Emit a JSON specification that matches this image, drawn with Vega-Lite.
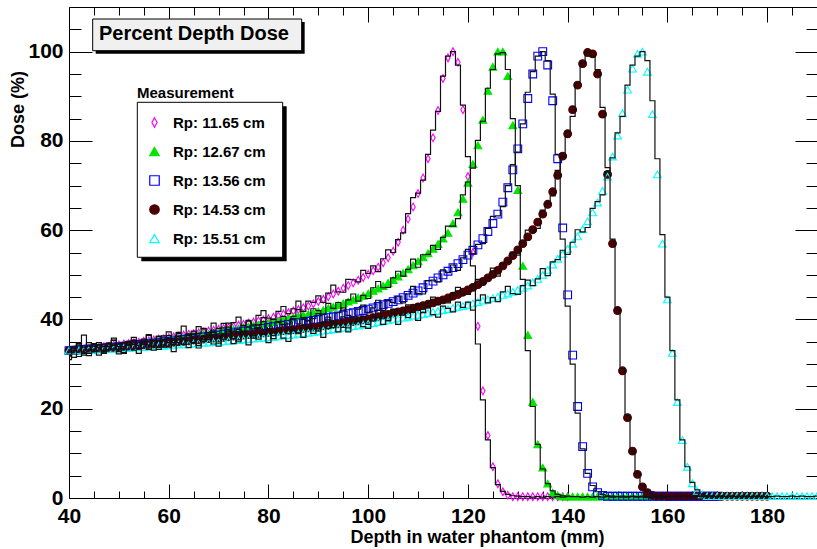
{
"$schema":"https://vega.github.io/schema/vega-lite/v6.json",
"width":748,"height":491,
"autosize":{"type":"none"},
"padding":{"left":69,"top":7,"right":0,"bottom":51},
"background":"white",
"config":{
 "font":"Liberation Sans",
 "view":{"stroke":"black","strokeWidth":1},
 "axis":{"domain":false,"grid":false,"tickColor":"black","tickWidth":1,"labelFont":"Liberation Sans","labelFontWeight":"bold","labelFontSize":21,"labelColor":"black","labelFlush":false,"labelOverlap":false,"titleFont":"Liberation Sans","titleFontWeight":"bold","titleFontSize":18,"titleColor":"black"},
 "legend":{"titleFont":"Liberation Sans","titleFontSize":15,"titleFontWeight":"bold","titleColor":"black","labelFont":"Liberation Sans","labelFontSize":15,"labelFontWeight":"bold","labelColor":"black","symbolSize":90,"symbolStrokeWidth":1.2,"rowPadding":13,"titlePadding":14,"symbolOffset":10,"labelOffset":11,"padding":0}
},
"datasets":{
"meas":[
{"x":40,"a":33.0,"b":33.0,"c":33.0,"d":33.0,"e":33.0},
{"x":41,"a":33.1,"b":33.1,"c":33.1,"d":33.1,"e":33.0},
{"x":42,"a":33.2,"b":33.2,"c":33.2,"d":33.2,"e":33.1},
{"x":43,"a":33.4,"b":33.3,"c":33.3,"d":33.2,"e":33.1},
{"x":44,"a":33.5,"b":33.4,"c":33.4,"d":33.3,"e":33.2},
{"x":45,"a":33.6,"b":33.5,"c":33.4,"d":33.4,"e":33.2},
{"x":46,"a":33.7,"b":33.6,"c":33.5,"d":33.5,"e":33.3},
{"x":47,"a":33.9,"b":33.7,"c":33.6,"d":33.6,"e":33.3},
{"x":48,"a":34.0,"b":33.9,"c":33.7,"d":33.6,"e":33.4},
{"x":49,"a":34.2,"b":34.0,"c":33.8,"d":33.7,"e":33.4},
{"x":50,"a":34.3,"b":34.1,"c":33.9,"d":33.8,"e":33.5},
{"x":51,"a":34.5,"b":34.2,"c":34.0,"d":33.9,"e":33.6},
{"x":52,"a":34.6,"b":34.4,"c":34.1,"d":34.0,"e":33.6},
{"x":53,"a":34.8,"b":34.5,"c":34.2,"d":34.1,"e":33.7},
{"x":54,"a":34.9,"b":34.6,"c":34.4,"d":34.2,"e":33.8},
{"x":55,"a":35.1,"b":34.8,"c":34.5,"d":34.3,"e":33.8},
{"x":56,"a":35.2,"b":34.9,"c":34.6,"d":34.4,"e":33.9},
{"x":57,"a":35.4,"b":35.1,"c":34.7,"d":34.5,"e":34.0},
{"x":58,"a":35.6,"b":35.2,"c":34.8,"d":34.6,"e":34.1},
{"x":59,"a":35.7,"b":35.4,"c":35.0,"d":34.7,"e":34.1},
{"x":60,"a":35.9,"b":35.5,"c":35.1,"d":34.8,"e":34.2},
{"x":61,"a":36.1,"b":35.7,"c":35.2,"d":34.9,"e":34.3},
{"x":62,"a":36.3,"b":35.8,"c":35.4,"d":35.0,"e":34.4},
{"x":63,"a":36.5,"b":36.0,"c":35.5,"d":35.1,"e":34.4},
{"x":64,"a":36.7,"b":36.2,"c":35.7,"d":35.2,"e":34.5},
{"x":65,"a":36.8,"b":36.3,"c":35.8,"d":35.4,"e":34.6},
{"x":66,"a":37.0,"b":36.5,"c":35.9,"d":35.5,"e":34.7},
{"x":67,"a":37.2,"b":36.7,"c":36.1,"d":35.6,"e":34.8},
{"x":68,"a":37.4,"b":36.8,"c":36.2,"d":35.7,"e":34.8},
{"x":69,"a":37.6,"b":37.0,"c":36.4,"d":35.8,"e":34.9},
{"x":70,"a":37.8,"b":37.2,"c":36.5,"d":35.9,"e":35.0},
{"x":71,"a":38.0,"b":37.4,"c":36.7,"d":36.0,"e":35.1},
{"x":72,"a":38.2,"b":37.6,"c":36.9,"d":36.1,"e":35.2},
{"x":73,"a":38.4,"b":37.8,"c":37.0,"d":36.3,"e":35.3},
{"x":74,"a":38.7,"b":38.0,"c":37.2,"d":36.4,"e":35.4},
{"x":75,"a":38.9,"b":38.2,"c":37.4,"d":36.5,"e":35.5},
{"x":76,"a":39.2,"b":38.4,"c":37.5,"d":36.6,"e":35.6},
{"x":77,"a":39.4,"b":38.6,"c":37.7,"d":36.7,"e":35.7},
{"x":78,"a":39.7,"b":38.8,"c":37.9,"d":36.9,"e":35.8},
{"x":79,"a":39.9,"b":39.0,"c":38.0,"d":37.0,"e":35.9},
{"x":80,"a":40.2,"b":39.2,"c":38.2,"d":37.1,"e":36.0},
{"x":81,"a":40.5,"b":39.4,"c":38.4,"d":37.2,"e":36.1},
{"x":82,"a":40.8,"b":39.7,"c":38.5,"d":37.4,"e":36.2},
{"x":83,"a":41.2,"b":39.9,"c":38.7,"d":37.5,"e":36.4},
{"x":84,"a":41.5,"b":40.2,"c":38.9,"d":37.6,"e":36.5},
{"x":85,"a":41.9,"b":40.4,"c":39.1,"d":37.7,"e":36.6},
{"x":86,"a":42.2,"b":40.7,"c":39.3,"d":37.9,"e":36.8},
{"x":87,"a":42.6,"b":41.0,"c":39.4,"d":38.0,"e":36.9},
{"x":88,"a":43.0,"b":41.2,"c":39.6,"d":38.1,"e":37.0},
{"x":89,"a":43.5,"b":41.5,"c":39.8,"d":38.3,"e":37.2},
{"x":90,"a":44.0,"b":41.8,"c":40.0,"d":38.4,"e":37.3},
{"x":91,"a":44.5,"b":42.1,"c":40.2,"d":38.6,"e":37.5},
{"x":92,"a":45.1,"b":42.5,"c":40.4,"d":38.7,"e":37.6},
{"x":93,"a":45.7,"b":42.8,"c":40.6,"d":38.9,"e":37.8},
{"x":94,"a":46.3,"b":43.2,"c":40.8,"d":39.0,"e":38.0},
{"x":95,"a":47.0,"b":43.6,"c":41.0,"d":39.2,"e":38.1},
{"x":96,"a":47.6,"b":44.0,"c":41.3,"d":39.4,"e":38.3},
{"x":97,"a":48.2,"b":44.4,"c":41.5,"d":39.5,"e":38.5},
{"x":98,"a":48.8,"b":44.9,"c":41.8,"d":39.7,"e":38.6},
{"x":99,"a":49.4,"b":45.3,"c":42.0,"d":39.9,"e":38.8},
{"x":100,"a":50.1,"b":45.8,"c":42.3,"d":40.1,"e":39.0},
{"x":101,"a":50.9,"b":46.4,"c":42.6,"d":40.4,"e":39.2},
{"x":102,"a":51.7,"b":46.9,"c":42.9,"d":40.6,"e":39.4},
{"x":103,"a":52.7,"b":47.5,"c":43.3,"d":40.9,"e":39.6},
{"x":104,"a":53.8,"b":48.2,"c":43.6,"d":41.1,"e":39.8},
{"x":105,"a":55.3,"b":48.8,"c":44.0,"d":41.4,"e":40.0},
{"x":106,"a":57.3,"b":49.6,"c":44.4,"d":41.7,"e":40.2},
{"x":107,"a":60.0,"b":50.4,"c":44.9,"d":41.9,"e":40.4},
{"x":108,"a":62.5,"b":51.2,"c":45.4,"d":42.2,"e":40.6},
{"x":109,"a":65.2,"b":52.1,"c":45.9,"d":42.5,"e":40.8},
{"x":110,"a":68.2,"b":53.0,"c":46.4,"d":42.8,"e":41.0},
{"x":111,"a":71.7,"b":53.9,"c":47.1,"d":43.1,"e":41.2},
{"x":112,"a":76.0,"b":54.8,"c":47.8,"d":43.4,"e":41.4},
{"x":113,"a":80.7,"b":55.8,"c":48.6,"d":43.7,"e":41.7},
{"x":114,"a":86.8,"b":56.9,"c":49.3,"d":44.1,"e":41.9},
{"x":115,"a":94.0,"b":58.1,"c":50.0,"d":44.4,"e":42.1},
{"x":116,"a":98.6,"b":59.4,"c":50.8,"d":44.8,"e":42.3},
{"x":117,"a":100.0,"b":61.5,"c":51.6,"d":45.2,"e":42.6},
{"x":118,"a":97.6,"b":64.0,"c":52.5,"d":45.6,"e":42.8},
{"x":119,"a":87.0,"b":67.0,"c":53.4,"d":46.1,"e":43.0},
{"x":120,"a":72.0,"b":70.6,"c":54.4,"d":46.6,"e":43.3},
{"x":121,"a":55.0,"b":74.8,"c":55.5,"d":47.2,"e":43.6},
{"x":122,"a":38.5,"b":79.0,"c":56.7,"d":47.8,"e":43.9},
{"x":123,"a":24.0,"b":84.7,"c":58.1,"d":48.5,"e":44.2},
{"x":124,"a":14.0,"b":91.2,"c":59.7,"d":49.3,"e":44.5},
{"x":125,"a":7.0,"b":96.6,"c":61.5,"d":50.1,"e":44.8},
{"x":126,"a":3.2,"b":100.0,"c":63.6,"d":51.0,"e":45.1},
{"x":127,"a":1.4,"b":100.0,"c":66.3,"d":52.0,"e":45.5},
{"x":128,"a":0.6,"b":94.5,"c":69.5,"d":53.1,"e":45.8},
{"x":129,"a":0.3,"b":83.5,"c":73.5,"d":54.3,"e":46.2},
{"x":130,"a":0.3,"b":69.0,"c":78.2,"d":55.6,"e":46.6},
{"x":131,"a":0.3,"b":52.0,"c":83.8,"d":57.0,"e":47.1},
{"x":132,"a":0.3,"b":36.5,"c":89.5,"d":58.5,"e":47.6},
{"x":133,"a":0.3,"b":21.5,"c":95.0,"d":60.1,"e":48.3},
{"x":134,"a":0.3,"b":12.0,"c":99.0,"d":61.8,"e":49.1},
{"x":135,"a":0.3,"b":6.8,"c":100.0,"d":63.6,"e":50.0},
{"x":136,"a":0.3,"b":3.2,"c":97.0,"d":65.8,"e":51.1},
{"x":137,"a":0.3,"b":1.2,"c":89.0,"d":68.6,"e":52.3},
{"x":138,"a":0.3,"b":0.6,"c":76.0,"d":72.3,"e":53.6},
{"x":139,"a":0.3,"b":0.3,"c":60.5,"d":76.6,"e":54.7},
{"x":140,"a":0.3,"b":0.3,"c":45.5,"d":81.6,"e":55.8},
{"x":141,"b":0.3,"c":32.0,"d":87.0,"e":57.0},
{"x":142,"b":0.3,"c":20.5,"d":92.5,"e":58.6},
{"x":143,"b":0.3,"c":11.5,"d":97.3,"e":60.2},
{"x":144,"b":0.3,"c":5.5,"d":99.8,"e":62.0},
{"x":145,"b":0.3,"c":2.5,"d":99.5,"e":64.0},
{"x":146,"b":0.3,"c":1.2,"d":95.0,"e":66.2},
{"x":147,"b":0.3,"c":0.6,"d":86.0,"e":68.8},
{"x":148,"b":0.3,"c":0.4,"d":72.5,"e":72.0},
{"x":149,"b":0.3,"c":0.4,"d":57.0,"e":76.5},
{"x":150,"b":0.3,"c":0.4,"d":42.0,"e":81.2},
{"x":151,"b":0.3,"c":0.4,"d":28.5,"e":86.2},
{"x":152,"b":0.3,"c":0.4,"d":18.0,"e":91.5},
{"x":153,"b":0.3,"c":0.4,"d":10.5,"e":96.2},
{"x":154,"b":0.3,"c":0.4,"d":5.3,"e":99.5},
{"x":155,"b":0.3,"c":0.4,"d":2.5,"e":100.0},
{"x":156,"b":0.3,"c":0.4,"d":1.2,"e":95.5},
{"x":157,"b":0.3,"c":0.4,"d":0.6,"e":86.0},
{"x":158,"b":0.3,"c":0.4,"d":0.4,"e":72.5},
{"x":159,"b":0.3,"c":0.4,"d":0.4,"e":57.0},
{"x":160,"b":0.3,"c":0.4,"d":0.4,"e":44.5},
{"x":161,"c":0.4,"d":0.4,"e":32.5},
{"x":162,"c":0.4,"d":0.4,"e":21.5},
{"x":163,"c":0.4,"d":0.4,"e":13.0},
{"x":164,"c":0.4,"d":0.4,"e":7.0},
{"x":165,"c":0.4,"d":0.4,"e":3.3},
{"x":166,"c":0.4,"d":0.4,"e":1.6},
{"x":167,"c":0.4,"d":0.4,"e":0.8},
{"x":168,"c":0.4,"d":0.4,"e":0.4},
{"x":169,"c":0.4,"d":0.4,"e":0.4},
{"x":170,"c":0.4,"d":0.4,"e":0.4},
{"x":171,"d":0.4,"e":0.4},
{"x":172,"d":0.4,"e":0.4},
{"x":173,"d":0.4,"e":0.4},
{"x":174,"d":0.4,"e":0.4},
{"x":175,"d":0.4,"e":0.4},
{"x":176,"d":0.4,"e":0.4},
{"x":177,"d":0.4,"e":0.4},
{"x":178,"d":0.4,"e":0.4},
{"x":179,"d":0.4,"e":0.4},
{"x":180,"d":0.4,"e":0.4},
{"x":181,"e":0.4},{"x":182,"e":0.4},{"x":183,"e":0.4},{"x":184,"e":0.4},{"x":185,"e":0.4},
{"x":186,"e":0.4},{"x":187,"e":0.4},{"x":188,"e":0.4},{"x":189,"e":0.4},{"x":190,"e":0.4}
],
"sim":[
{"x":40,"a":32.7,"b":31.9,"c":31.0,"d":31.8,"e":32.0},
{"x":41,"a":33.7,"b":33.8,"c":33.1,"d":33.4,"e":31.5},
{"x":42,"a":31.7,"b":34.8,"c":34.6,"d":34.7,"e":34.3},
{"x":43,"a":33.8,"b":36.5,"c":32.0,"d":32.6,"e":32.4},
{"x":44,"a":34.8,"b":32.4,"c":34.0,"d":31.9,"e":33.2},
{"x":45,"a":32.8,"b":34.0,"c":33.2,"d":34.3,"e":34.6},
{"x":46,"a":33.8,"b":34.8,"c":34.3,"d":33.7,"e":32.0},
{"x":47,"a":32.8,"b":33.0,"c":32.4,"d":32.7,"e":33.9},
{"x":48,"a":34.7,"b":33.9,"c":34.0,"d":34.7,"e":33.2},
{"x":49,"a":35.8,"b":35.4,"c":35.3,"d":33.4,"e":34.2},
{"x":50,"a":33.9,"b":32.8,"c":33.3,"d":34.4,"e":32.3},
{"x":51,"a":33.5,"b":34.8,"c":32.6,"d":32.4,"e":33.9},
{"x":52,"a":35.1,"b":34.2,"c":35.0,"d":34.4,"e":35.1},
{"x":53,"a":36.0,"b":35.3,"c":34.4,"d":35.4,"e":33.1},
{"x":54,"a":34.2,"b":33.4,"c":33.5,"d":33.4,"e":32.4},
{"x":55,"a":35.1,"b":35.1,"c":35.6,"d":34.4,"e":34.7},
{"x":56,"a":36.6,"b":36.4,"c":34.3,"d":33.3,"e":34.1},
{"x":57,"a":34.1,"b":34.5,"c":35.3,"d":35.2,"e":33.1},
{"x":58,"a":36.2,"b":33.8,"c":33.3,"d":36.2,"e":35.2},
{"x":59,"a":35.5,"b":36.3,"c":35.4,"d":34.3,"e":33.8},
{"x":60,"a":37.2,"b":35.7,"c":36.4,"d":33.8,"e":34.8},
{"x":61,"a":35.4,"b":34.8,"c":34.4,"d":35.4,"e":32.8},
{"x":62,"a":37.1,"b":36.9,"c":35.5,"d":36.2,"e":34.8},
{"x":63,"a":38.5,"b":35.7,"c":34.4,"d":34.4,"e":35.7},
{"x":64,"a":36.6,"b":36.8,"c":36.4,"d":35.2,"e":33.7},
{"x":65,"a":35.9,"b":34.8,"c":37.4,"d":36.8,"e":34.7},
{"x":66,"a":38.4,"b":36.9,"c":35.5,"d":34.2,"e":33.6},
{"x":67,"a":37.9,"b":38.0,"c":35.1,"d":36.2,"e":35.5},
{"x":68,"a":37.0,"b":36.0,"c":36.7,"d":35.5,"e":36.4},
{"x":69,"a":39.2,"b":37.1,"c":37.6,"d":36.6,"e":34.5},
{"x":70,"a":38.0,"b":36.1,"c":35.8,"d":34.7,"e":34.0},
{"x":71,"a":39.1,"b":38.1,"c":36.7,"d":36.3,"e":35.6},
{"x":72,"a":37.2,"b":39.2,"c":38.3,"d":37.6,"e":36.4},
{"x":73,"a":39.3,"b":37.4,"c":35.7,"d":35.7,"e":34.6},
{"x":74,"a":40.5,"b":37.0,"c":37.8,"d":35.0,"e":35.4},
{"x":75,"a":38.6,"b":38.7,"c":37.2,"d":37.4,"e":36.9},
{"x":76,"a":39.8,"b":39.6,"c":38.3,"d":36.8,"e":34.3},
{"x":77,"a":38.8,"b":37.9,"c":36.5,"d":35.8,"e":36.3},
{"x":78,"a":40.9,"b":38.8,"c":38.2,"d":38.0,"e":35.6},
{"x":79,"a":42.0,"b":40.4,"c":39.5,"d":36.7,"e":36.7},
{"x":80,"a":40.3,"b":37.9,"c":37.6,"d":37.7,"e":34.8},
{"x":81,"a":40.0,"b":40.0,"c":37.0,"d":35.7,"e":36.4},
{"x":82,"a":41.8,"b":39.5,"c":39.4,"d":37.8,"e":37.7},
{"x":83,"a":42.9,"b":40.7,"c":38.9,"d":38.8,"e":35.8},
{"x":84,"a":41.3,"b":39.0,"c":38.0,"d":36.8,"e":35.1},
{"x":85,"a":42.4,"b":40.7,"c":40.2,"d":37.8,"e":37.5},
{"x":86,"a":44.1,"b":42.2,"c":39.0,"d":36.8,"e":37.0},
{"x":87,"a":41.8,"b":40.4,"c":40.0,"d":38.7,"e":36.0},
{"x":88,"a":44.1,"b":39.8,"c":38.1,"d":39.7,"e":38.1},
{"x":89,"a":43.8,"b":42.4,"c":40.2,"d":37.9,"e":36.9},
{"x":90,"a":45.3,"b":42.0,"c":41.3,"d":37.4,"e":37.9},
{"x":91,"a":43.8,"b":41.2,"c":39.4,"d":39.1,"e":36.0},
{"x":92,"a":45.9,"b":43.6,"c":40.5,"d":39.9,"e":38.0},
{"x":93,"a":47.7,"b":42.5,"c":39.5,"d":38.2,"e":39.1},
{"x":94,"a":46.2,"b":43.8,"c":41.5,"d":39.0,"e":37.2},
{"x":95,"a":46.1,"b":42.1,"c":42.6,"d":40.6,"e":38.2},
{"x":96,"a":49.0,"b":44.4,"c":40.9,"d":38.1,"e":37.2},
{"x":97,"a":48.9,"b":45.7,"c":40.5,"d":40.1,"e":39.2},
{"x":98,"a":48.4,"b":44.1,"c":42.3,"d":39.5,"e":40.2},
{"x":99,"a":51.0,"b":45.4,"c":43.2,"d":40.7,"e":38.4},
{"x":100,"a":50.3,"b":44.7,"c":41.6,"d":38.9,"e":38.0},
{"x":101,"a":52.0,"b":47.1,"c":42.6,"d":40.7,"e":39.7},
{"x":102,"a":50.7,"b":48.5,"c":44.3,"d":42.1,"e":40.6},
{"x":103,"a":53.6,"b":47.1,"c":42.0,"d":40.3,"e":38.9},
{"x":104,"a":55.6,"b":47.2,"c":44.2,"d":39.7,"e":39.8},
{"x":105,"a":55.0,"b":49.3,"c":43.8,"d":42.3,"e":41.4},
{"x":106,"a":57.9,"b":50.8,"c":45.2,"d":41.9,"e":38.9},
{"x":107,"a":59.4,"b":49.7,"c":43.7,"d":41.0,"e":41.0},
{"x":108,"a":63.7,"b":51.2,"c":45.7,"d":43.3,"e":40.4},
{"x":109,"a":67.3,"b":53.5,"c":47.4,"d":42.2,"e":41.6},
{"x":110,"a":68.3,"b":51.7,"c":45.8,"d":43.4,"e":39.8},
{"x":111,"a":71.2,"b":54.5,"c":45.7,"d":41.6,"e":41.5},
{"x":112,"a":77.0,"b":54.6,"c":48.7,"d":43.8,"e":42.9},
{"x":113,"a":82.4,"b":56.6,"c":48.8,"d":45.0,"e":41.1},
{"x":114,"a":86.6,"b":55.7,"c":48.4,"d":43.3,"e":40.5},
{"x":115,"a":94.5,"b":58.4,"c":51.1,"d":44.5,"e":43.0},
{"x":116,"a":99.0,"b":60.9,"c":50.5,"d":43.7,"e":42.5},
{"x":117,"a":100.0,"b":60.9,"c":52.2,"d":45.9,"e":41.7},
{"x":118,"a":97.0,"b":62.6,"c":51.0,"d":47.2,"e":43.9},
{"x":119,"a":88.0,"b":67.9,"c":53.8,"d":45.7,"e":42.7},
{"x":120,"a":76.5,"b":70.8,"c":55.7,"d":45.6,"e":43.9},
{"x":121,"a":52.0,"b":73.9,"c":54.7,"d":47.7,"e":42.1},
{"x":122,"a":34.5,"b":80.1,"c":56.8,"d":49.0,"e":44.3},
{"x":123,"a":22.0,"b":84.4,"c":57.0,"d":47.8,"e":45.5},
{"x":124,"a":13.0,"b":91.8,"c":60.4,"d":49.3,"e":43.7},
{"x":125,"a":6.8,"b":96.0,"c":63.1,"d":51.5,"e":44.9},
{"x":126,"a":3.0,"b":99.5,"c":63.2,"d":49.7,"e":44.0},
{"x":127,"a":1.5,"b":99.8,"c":65.3,"d":52.6,"e":46.2},
{"x":128,"a":0.8,"b":96.0,"c":70.0,"d":52.9,"e":47.4},
{"x":129,"a":0.5,"b":85.0,"c":74.7,"d":55.1,"e":45.8},
{"x":130,"a":0.4,"b":70.0,"c":77.5,"d":54.4,"e":45.6},
{"x":131,"a":0.3,"b":49.0,"c":83.8,"d":57.3,"e":47.6},
{"x":132,"a":0.3,"b":33.0,"c":90.9,"d":60.0,"e":48.8},
{"x":133,"a":0.2,"b":20.5,"c":95.5,"d":59.5,"e":47.6},
{"x":134,"a":0.3,"b":12.0,"c":99.0,"d":60.4,"e":49.1},
{"x":135,"a":0.2,"b":6.5,"c":100.0,"d":64.5,"e":51.4},
{"x":136,"a":0.3,"b":3.2,"c":98.0,"d":66.0,"e":49.8},
{"x":137,"a":0.2,"b":1.6,"c":90.5,"d":67.7,"e":52.9},
{"x":138,"a":0.3,"b":0.8,"c":77.0,"d":73.4,"e":53.4},
{"x":139,"a":0.2,"b":0.5,"c":58.0,"d":76.3,"e":55.5},
{"x":140,"a":0.3,"b":0.4,"c":43.0,"d":82.2,"e":54.6},
{"x":141,"b":0.3,"c":30.0,"d":85.5,"e":57.3},
{"x":142,"b":0.3,"c":19.0,"d":93.0,"e":60.1},
{"x":143,"b":0.2,"c":11.0,"d":97.5,"e":59.6},
{"x":144,"b":0.3,"c":5.5,"d":100.0,"e":60.6},
{"x":145,"b":0.2,"c":2.8,"d":99.0,"e":64.9},
{"x":146,"b":0.3,"c":1.4,"d":96.0,"e":66.4},
{"x":147,"b":0.2,"c":0.8,"d":87.5,"e":67.9},
{"x":148,"b":0.3,"c":0.5,"d":74.0,"e":73.1},
{"x":149,"b":0.2,"c":0.4,"d":58.0,"e":76.2},
{"x":150,"b":0.3,"c":0.3,"d":42.5,"e":81.8},
{"x":151,"b":0.2,"c":0.4,"d":29.0,"e":85.5},
{"x":152,"b":0.2,"c":0.3,"d":18.5,"e":92.5},
{"x":153,"b":0.3,"c":0.4,"d":10.5,"e":97.0},
{"x":154,"b":0.2,"c":0.3,"d":5.5,"e":99.0},
{"x":155,"b":0.2,"c":0.4,"d":2.8,"e":100.0},
{"x":156,"b":0.1,"c":0.3,"d":1.4,"e":98.0},
{"x":157,"b":0.2,"c":0.3,"d":0.8,"e":89.0},
{"x":158,"b":0.2,"c":0.4,"d":0.5,"e":76.0},
{"x":159,"b":0.1,"c":0.3,"d":0.4,"e":59.0},
{"x":160,"b":0.2,"c":0.3,"d":0.4,"e":45.0},
{"x":161,"c":0.3,"d":0.3,"e":33.0},
{"x":162,"c":0.3,"d":0.4,"e":22.0},
{"x":163,"c":0.4,"d":0.3,"e":13.0},
{"x":164,"c":0.3,"d":0.4,"e":7.0},
{"x":165,"c":0.3,"d":0.3,"e":3.5},
{"x":166,"c":0.4,"d":0.4,"e":1.8},
{"x":167,"c":0.3,"d":0.3,"e":0.9},
{"x":168,"c":0.3,"d":0.4,"e":0.5},
{"x":169,"c":0.4,"d":0.3,"e":0.4},
{"x":170,"c":0.3,"d":0.3,"e":0.3},
{"x":171,"d":0.4,"e":0.4},
{"x":172,"d":0.3,"e":0.3},
{"x":173,"d":0.4,"e":0.4},
{"x":174,"d":0.3,"e":0.3},
{"x":175,"d":0.3,"e":0.4},
{"x":176,"d":0.4,"e":0.3},
{"x":177,"d":0.3,"e":0.3},
{"x":178,"d":0.3,"e":0.4},
{"x":179,"d":0.4,"e":0.3},
{"x":180,"d":0.3,"e":0.3},
{"x":181,"e":0.3},{"x":182,"e":0.4},{"x":183,"e":0.3},{"x":184,"e":0.3},{"x":185,"e":0.4},
{"x":186,"e":0.3},{"x":187,"e":0.4},{"x":188,"e":0.3},{"x":189,"e":0.3},{"x":190,"e":0.4}
]
},
"layer":[
{
 "data":{"name":"meas"},
 "transform":[{"fold":["a","b","c","d","e"],"as":["series","y"]},{"filter":"isValid(datum.y)"}],
 "mark":{"type":"point","strokeWidth":1.1,"size":60,"opacity":1},
 "encoding":{
  "x":{"field":"x","type":"quantitative","scale":{"domain":[40,190],"nice":false,"zero":false},
       "axis":{"orient":"bottom","values":[45,50,55,65,70,75,85,90,95,105,110,115,125,130,135,145,150,155,165,170,175,185],"tickSize":-7,"labels":false,"title":null}},
  "y":{"field":"y","type":"quantitative","scale":{"domain":[0,110],"nice":false,"zero":false},
       "axis":{"orient":"left","values":[5,10,15,25,30,35,45,50,55,65,70,75,85,90,95,105],"tickSize":-12,"labels":false,"title":null}},
  "shape":{"field":"series","type":"nominal","scale":{"domain":["a","b","c","d","e"],"range":["M0,-1L0.55,0L0,1L-0.55,0Z","triangle-up","square","circle","triangle-up"]},
       "legend":{"title":"Measurement","orient":"none","legendX":68,"legendY":79,"labelExpr":"datum.label == 'a' ? 'Rp: 11.65 cm' : datum.label == 'b' ? 'Rp: 12.67 cm' : datum.label == 'c' ? 'Rp: 13.56 cm' : datum.label == 'd' ? 'Rp: 14.53 cm' : 'Rp: 15.51 cm'"}},
  "stroke":{"field":"series","type":"nominal","scale":{"domain":["a","b","c","d","e"],"range":["#ff00ff","#00e600","#0000ff","#4a0000","#00ffff"]},
       "legend":{"title":"Measurement","orient":"none","legendX":68,"legendY":79,"labelExpr":"datum.label == 'a' ? 'Rp: 11.65 cm' : datum.label == 'b' ? 'Rp: 12.67 cm' : datum.label == 'c' ? 'Rp: 13.56 cm' : datum.label == 'd' ? 'Rp: 14.53 cm' : 'Rp: 15.51 cm'"}},
  "fill":{"field":"series","type":"nominal","scale":{"domain":["a","b","c","d","e"],"range":["transparent","#00e600","transparent","#4a0000","transparent"]},
       "legend":{"title":"Measurement","orient":"none","legendX":68,"legendY":79,"labelExpr":"datum.label == 'a' ? 'Rp: 11.65 cm' : datum.label == 'b' ? 'Rp: 12.67 cm' : datum.label == 'c' ? 'Rp: 13.56 cm' : datum.label == 'd' ? 'Rp: 14.53 cm' : 'Rp: 15.51 cm'"}}
 }
},
{
 "data":{"name":"sim"},
 "transform":[{"fold":["a","b","c","d","e"],"as":["series","y"]},{"filter":"isValid(datum.y)"}],
 "mark":{"type":"line","interpolate":"step","color":"#111111","strokeWidth":1.2},
 "encoding":{
  "x":{"field":"x","type":"quantitative","scale":{"domain":[40,190],"nice":false,"zero":false},
       "axis":{"orient":"bottom","values":[40,60,80,100,120,140,160,180],"tickSize":-14,"labelPadding":21,"title":"Depth in water phantom (mm)","titleX":535,"titleY":44,"titleAlign":"right","titleBaseline":"alphabetic","titleAngle":0}},
  "y":{"field":"y","type":"quantitative","scale":{"domain":[0,110],"nice":false,"zero":false},
       "axis":{"orient":"left","values":[0,20,40,60,80,100],"tickSize":-23,"labelPadding":29,"title":"Dose (%)","titleX":-51,"titleY":102,"titleAngle":270,"titleAlign":"center","titleBaseline":"middle"}},
  "detail":{"field":"series","type":"nominal"}
 }
},
{
 "data":{"values":[{}]},
 "mark":{"type":"rect","color":"black"},
 "encoding":{
  "x":{"datum":45.35,"type":"quantitative","scale":{"domain":[40,190],"nice":false,"zero":false},
       "axis":{"orient":"top","values":[45,50,55,65,70,75,85,90,95,105,110,115,125,130,135,145,150,155,165,170,175,185],"tickSize":-8,"labels":false,"title":null}},
  "x2":{"datum":87.26},
  "y":{"datum":106.64,"type":"quantitative","scale":{"domain":[0,110],"nice":false,"zero":false},
       "axis":{"orient":"right","values":[5,10,15,25,30,35,45,50,55,65,70,75,85,90,95,105],"tickSize":-11,"labels":false,"title":null}},
  "y2":{"datum":99.54}
 }
},
{
 "data":{"values":[{}]},
 "mark":{"type":"rect","fill":"#f0f0f0","stroke":"black","strokeWidth":1},
 "encoding":{
  "x":{"datum":44.75,"type":"quantitative","scale":{"domain":[40,190],"nice":false,"zero":false},
       "axis":{"orient":"top","values":[40,60,80,100,120,140,160,180],"tickSize":-15,"labels":false,"title":null}},
  "x2":{"datum":86.66},
  "y":{"datum":107.31,"type":"quantitative","scale":{"domain":[0,110],"nice":false,"zero":false},
       "axis":{"orient":"right","values":[0,20,40,60,80,100],"tickSize":-22,"labels":false,"title":null}},
  "y2":{"datum":100.21}
 }
},
{
 "data":{"values":[{}]},
 "mark":{"type":"text","text":"Percent Depth Dose","font":"Liberation Sans","fontWeight":"bold","fontSize":20,"align":"left","baseline":"alphabetic","color":"black"},
 "encoding":{
  "x":{"datum":46.0,"type":"quantitative","scale":{"domain":[40,190],"nice":false,"zero":false},"axis":null},
  "y":{"datum":102.5,"type":"quantitative","scale":{"domain":[0,110],"nice":false,"zero":false},"axis":null}
 }
},
{
 "data":{"values":[{}]},
 "mark":{"type":"rect","color":"black"},
 "encoding":{
  "x":{"datum":54.5,"type":"quantitative","scale":{"domain":[40,190],"nice":false,"zero":false},"axis":null},
  "x2":{"datum":83.65},
  "y":{"datum":87.75,"type":"quantitative","scale":{"domain":[0,110],"nice":false,"zero":false},"axis":null},
  "y2":{"datum":53.03}
 }
},
{
 "data":{"values":[{}]},
 "mark":{"type":"rect","fill":"white","stroke":"black","strokeWidth":1},
 "encoding":{
  "x":{"datum":53.7,"type":"quantitative","scale":{"domain":[40,190],"nice":false,"zero":false},"axis":null},
  "x2":{"datum":82.85},
  "y":{"datum":88.65,"type":"quantitative","scale":{"domain":[0,110],"nice":false,"zero":false},"axis":null},
  "y2":{"datum":53.93}
 }
}
],
"resolve":{"axis":{"x":"independent","y":"independent"}}
}
